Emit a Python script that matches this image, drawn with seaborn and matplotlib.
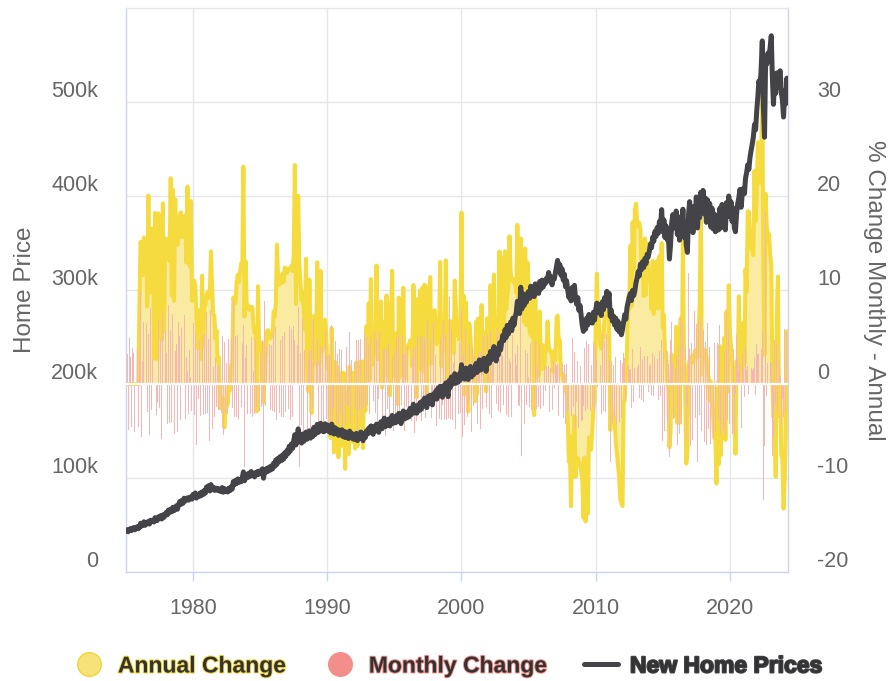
import matplotlib
matplotlib.use("Agg")

import matplotlib.dates as mdates
import matplotlib.patheffects as pe
import matplotlib.pyplot as plt
import pandas as pd
import seaborn as sns
from matplotlib.lines import Line2D
from matplotlib.ticker import FuncFormatter

# ---------------------------------------------------------------------------
# Data: average new home sale price, thousands of $, monthly from Jan 1975
# (one row per year)
# ---------------------------------------------------------------------------
price_k = [
    43.6, 45.0, 42.8, 44.9, 46.2, 44.1, 45.8, 47.3, 44.9, 46.5, 48.2, 46.0,
    47.2, 51.8, 48.9, 50.1, 53.4, 49.6, 52.8, 51.2, 53.9, 51.0, 55.1, 53.6,
    55.0, 53.2, 57.8, 55.9, 54.8, 58.6, 57.1, 59.9, 56.4, 60.8, 58.2, 61.5,
    63.5, 60.8, 65.9, 63.2, 66.8, 64.1, 68.9, 65.2, 67.5, 70.4, 66.8, 71.2,
    74.8, 71.9, 76.2, 73.1, 78.5, 75.6, 77.8, 78.9, 76.4, 79.2, 79.8, 77.5,
    82.5, 79.8, 84.1, 78.6, 81.5, 80.2, 83.9, 81.0, 85.2, 82.4, 86.8, 84.0,
    90.4, 87.6, 91.8, 86.2, 93.0, 88.5, 90.1, 86.9, 89.3, 87.1, 88.9, 86.4,
    88.1, 85.4, 89.8, 84.9, 88.7, 86.0, 87.9, 85.1, 89.2, 86.5, 90.6, 88.3,
    96.2, 92.8, 97.5, 94.1, 99.0, 95.3, 98.4, 96.0, 100.2, 106.5, 97.1, 99.8,
    103.9, 100.6, 105.2, 101.8, 106.9, 103.1, 104.5, 101.2, 106.0, 103.4, 107.2, 104.1,
    107.5, 104.9, 109.8, 99.8, 108.6, 106.1, 110.3, 107.0, 111.5, 108.4, 112.9, 109.6,
    115.8, 112.4, 119.2, 114.6, 121.0, 117.3, 122.8, 118.5, 124.6, 120.2, 126.9, 123.1,
    129.5, 126.0, 133.8, 128.7, 136.2, 131.4, 139.5, 146.1, 135.2, 140.8, 152.3, 138.9,
    143.5, 137.2, 146.8, 139.0, 144.1, 148.9, 141.3, 145.0, 150.2, 142.4, 147.6, 144.0,
    153.9, 146.2, 149.8, 157.0, 148.5, 152.1, 158.3, 150.0, 155.9, 149.2, 157.7, 151.8,
    156.4, 149.5, 154.2, 148.0, 157.3, 150.6, 146.8, 153.5, 147.2, 151.9, 145.4, 150.8,
    146.0, 151.3, 144.2, 149.7, 143.1, 148.8, 145.5, 142.0, 149.9, 143.6, 147.2, 141.5,
    144.8, 140.9, 147.5, 139.8, 146.3, 142.2, 149.0, 143.4, 139.7, 147.1, 143.0, 150.2,
    146.9, 153.0, 148.1, 155.4, 149.2, 146.5, 154.8, 150.1, 157.3, 151.0, 148.6, 156.9,
    159.8, 152.4, 157.9, 163.7, 154.6, 160.3, 156.0, 162.8, 155.4, 161.9, 166.5, 158.2,
    163.9, 158.7, 166.4, 160.2, 168.8, 161.5, 157.9, 166.0, 171.3, 162.7, 168.1, 164.0,
    170.6, 165.0, 174.1, 167.3, 172.0, 178.5, 169.2, 175.8, 168.9, 177.4, 171.5, 180.3,
    173.2, 181.9, 176.4, 185.0, 178.3, 174.9, 186.6, 179.7, 188.1, 181.2, 177.8, 189.5,
    186.8, 192.5, 183.9, 195.7, 188.4, 197.6, 190.1, 185.9, 198.3, 191.0, 201.2, 193.6,
    186.5, 203.8, 196.2, 207.5, 199.6, 204.1, 211.0, 200.8, 208.5, 201.9, 210.7, 204.3,
    220.5, 208.0, 214.6, 205.2, 216.9, 209.3, 204.8, 213.7, 218.6, 207.5, 215.2, 210.1,
    216.4, 221.8, 212.3, 219.5, 225.6, 214.8, 222.0, 216.1, 227.3, 218.9, 213.5, 224.8,
    229.5, 222.1, 234.6, 226.0, 231.2, 239.8, 229.4, 224.5, 237.9, 231.0, 243.6, 236.2,
    244.8, 252.0, 246.3, 257.9, 249.5, 262.4, 253.1, 259.8, 266.0, 256.7, 270.1, 262.5,
    270.9, 276.4, 288.0, 281.5, 275.0, 303.0, 279.8, 296.0, 283.5, 293.7, 287.0, 296.4,
    298.5, 291.2, 304.0, 295.6, 301.8, 293.0, 306.5, 298.2, 303.9, 296.4, 309.1, 301.0,
    310.5, 303.2, 309.0, 306.8, 312.4, 312.5, 318.6, 309.0, 314.2, 305.5, 313.0, 311.7,
    318.4, 324.6, 331.5, 320.2, 327.0, 315.8, 322.4, 310.6, 316.9, 303.5, 309.8, 300.2,
    292.0, 298.5, 288.4, 302.6, 295.1, 305.0, 290.5, 284.8, 291.9, 278.3, 283.6, 272.5,
    262.0, 256.0, 265.8, 258.3, 270.2, 262.9, 274.0, 266.1, 271.5, 264.8, 276.3, 268.0,
    278.5, 286.0, 285.2, 276.0, 281.7, 272.8, 287.5, 279.1, 292.0, 283.4, 298.6, 289.0,
    296.5, 272.0, 278.4, 266.8, 272.2, 262.5, 270.0, 258.3, 266.8, 255.6, 262.0, 252.4,
    258.0, 266.5, 273.8, 268.9, 281.2, 287.0, 291.5, 296.3, 288.8, 299.6, 294.0, 299.0,
    307.5, 312.9, 319.6, 315.0, 327.4, 321.8, 330.2, 324.0, 333.5, 328.1, 338.0, 335.2,
    341.6, 348.9, 345.0, 356.2, 351.8, 362.4, 357.0, 366.5, 360.3, 372.8, 368.1, 385.5,
    362.0, 374.5, 355.8, 368.2, 353.4, 361.0, 333.0, 348.6, 371.5, 380.2, 366.0, 372.4,
    384.0, 359.0, 373.0, 353.0, 378.0, 362.0, 386.0, 356.0, 370.0, 348.0, 340.0, 380.0,
    394.0, 368.0, 384.0, 361.0, 389.0, 375.0, 399.0, 366.0, 390.0, 377.0, 404.0, 384.0,
    406.0, 381.0, 398.0, 372.0, 396.0, 377.0, 392.0, 367.0, 387.0, 365.0, 381.0, 362.0,
    363.0, 379.0, 364.0, 387.0, 366.0, 391.0, 372.0, 385.0, 364.0, 393.0, 378.0, 400.0,
    383.0, 394.0, 373.0, 387.0, 366.0, 362.0, 381.0, 392.0, 398.0, 407.0, 388.0, 401.0,
    408.0, 402.5, 418.6, 425.0, 433.2, 428.4, 441.0, 448.5, 455.2, 462.8, 476.0, 470.5,
    490.5, 506.0, 522.4, 515.8, 535.0, 565.0, 495.0, 462.5, 547.3, 540.2, 552.0, 545.5,
    558.0, 570.5, 527.0, 497.5, 520.8, 509.2, 531.0, 515.4, 528.5, 533.2, 510.0, 501.8,
    484.0, 512.5, 498.0, 525.4, 510.2,
]

x_tick_years = [1980, 1990, 2000, 2010, 2020]
price_ticks = [0, 100000, 200000, 300000, 400000, 500000]
pct_ticks = [-20, -10, 0, 10, 20, 30]
legend_labels = ["Annual Change", "Monthly Change", "New Home Prices"]

# colours
YELLOW = "#f6db3f"
YELLOW_FILL = "#f9eca2"
PINK = "#f28f8a"
PINK_BAR = "#f5b7b3"
DARK = "#434348"
GRID = "#e6e6e6"
AXIS = "#ccd6eb"
LABEL = "#666666"

# ---------------------------------------------------------------------------
# Derived series
# ---------------------------------------------------------------------------
dates = pd.date_range("1975-01-01", periods=len(price_k), freq="MS")
df = pd.DataFrame({"date": dates, "price": [p * 1000 for p in price_k]})
df["annual"] = df["price"].pct_change(12).mul(100).fillna(0)
df["monthly"] = df["price"].pct_change(1).mul(100).fillna(0)

sns.set_theme(style="white")
plt.rcParams["font.family"] = ["Liberation Sans", "DejaVu Sans"]
plt.rcParams["axes.unicode_minus"] = False

fig, ax = plt.subplots(figsize=(8.92, 6.81), dpi=100)
fig.subplots_adjust(left=126 / 892, right=788 / 892, bottom=1 - 572 / 681, top=1 - 8 / 681)

# back axes: % change (right-hand scale)
ax.fill_between(df["date"], df["annual"], 0, color=YELLOW_FILL, lw=0, zorder=1)
sns.lineplot(data=df, x="date", y="annual", ax=ax, color=YELLOW, lw=2.9,
             estimator=None, zorder=2)
ax.bar(df["date"], df["monthly"], width=25, color=PINK_BAR, linewidth=0, zorder=3)
ax.axhline(0, color="white", lw=1.6, zorder=4)

# front axes: home price (left-hand scale)
ax2 = ax.twinx()
sns.lineplot(data=df, x="date", y="price", ax=ax2, color=DARK, lw=3.6,
             estimator=None, zorder=5)

ax.yaxis.tick_right()
ax.yaxis.set_label_position("right")
ax2.yaxis.tick_left()
ax2.yaxis.set_label_position("left")

ax.set_xlim(df["date"].iloc[0], df["date"].iloc[-1])
ax.set_ylim(-20, 40)
ax2.set_ylim(0, 600000)

ax.set_yticks(pct_ticks)
ax2.set_yticks(price_ticks)
ax2.yaxis.set_major_formatter(FuncFormatter(lambda v, _: "0" if v == 0 else f"{int(v / 1000)}k"))
ax.set_xticks([pd.Timestamp(f"{y}-01-01") for y in x_tick_years])
ax.xaxis.set_major_formatter(mdates.DateFormatter("%Y"))

ax.set_axisbelow(True)
ax.grid(True, axis="both", color=GRID, lw=1)
ax2.grid(False)

for side in ["left", "right", "bottom"]:
    ax.spines[side].set_color(AXIS)
    ax.spines[side].set_linewidth(1)
ax.spines["top"].set_color(GRID)
ax.spines["top"].set_linewidth(1)
for s in ax2.spines.values():
    s.set_visible(False)

ax.tick_params(axis="x", bottom=True, length=6.5, width=1, color=AXIS, pad=12,
               labelsize=15.5, labelcolor=LABEL)
ax.tick_params(axis="y", right=True, left=False, length=0, pad=21,
               labelsize=15.5, labelcolor=LABEL)
ax2.tick_params(axis="y", left=True, right=False, length=0, pad=20,
                labelsize=15.5, labelcolor=LABEL)
for lab in ax.get_yticklabels() + ax2.get_yticklabels():
    lab.set_verticalalignment("bottom")

ax.set_xlabel("")
ax2.set_xlabel("")
ax2.set_ylabel("Home Price", fontsize=17.5, color=LABEL)
ax2.yaxis.set_label_coords(-0.136, 0.5)
ax.set_ylabel("% Change Monthly - Annual", fontsize=17.5, color=LABEL,
              rotation=270, va="bottom", ha="center")
ax.yaxis.set_label_coords(1.113, 0.5)

# legend
handles = [
    Line2D([], [], ls="none", marker="o", markersize=17, markerfacecolor="#f7e27a",
           markeredgecolor="#f2d33a", markeredgewidth=1),
    Line2D([], [], ls="none", marker="o", markersize=17, markerfacecolor=PINK,
           markeredgecolor=PINK, markeredgewidth=1),
    Line2D([], [], color=DARK, lw=3.6),
]
leg = fig.legend(handles, legend_labels, loc="center", bbox_to_anchor=(0.501, 1 - 666 / 681),
                 ncol=3, frameon=False, handlelength=1.5, handletextpad=0.5,
                 columnspacing=1.65, prop={"size": 16.5, "weight": "bold"})
outline = ["#f2d33a", PINK, DARK]
for txt, col in zip(leg.get_texts(), outline):
    txt.set_color("#333333")
    txt.set_path_effects([pe.withStroke(linewidth=1.4, foreground=col)])

fig.savefig("out.png", dpi=100)
plt.close(fig)
